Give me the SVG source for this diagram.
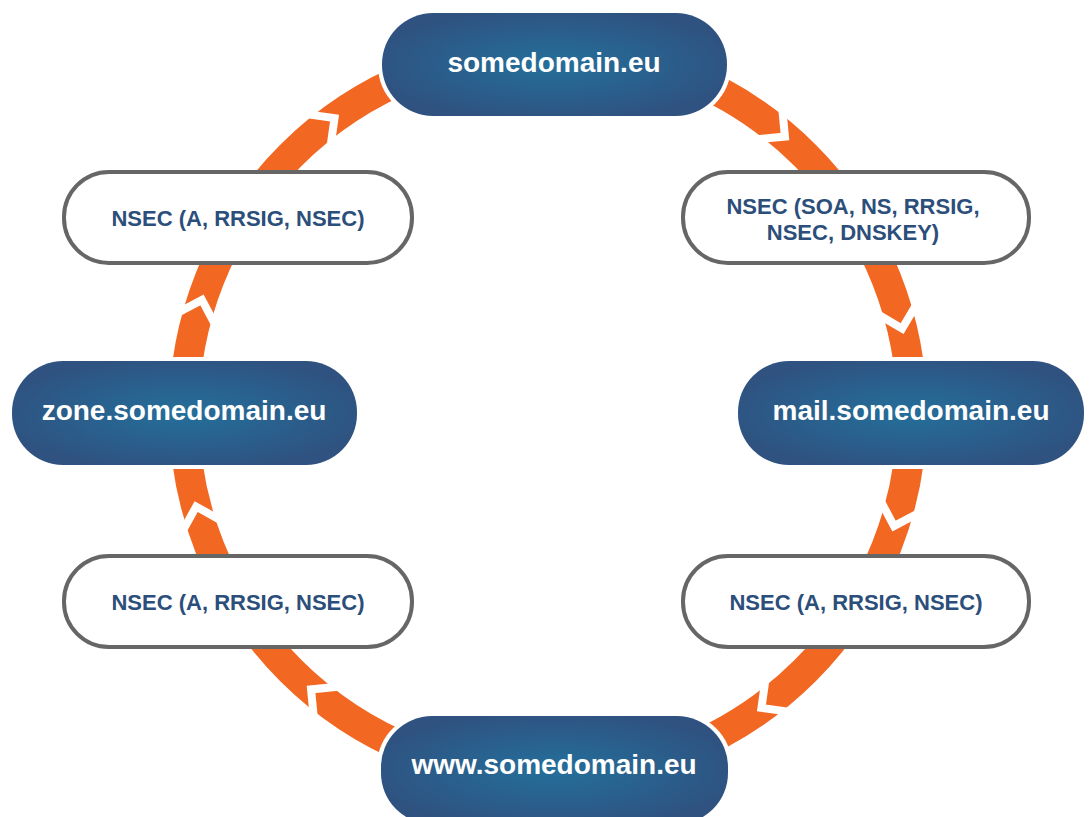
<svg xmlns="http://www.w3.org/2000/svg" width="1089" height="817" viewBox="0 0 1089 817">
  <defs>
    <radialGradient id="blueGrad" cx="0.5" cy="0.5" r="0.55">
      <stop offset="0" stop-color="#246f9b"/>
      <stop offset="1" stop-color="#2f5280"/>
    </radialGradient>
  </defs>
  <style>
    .band { fill: none; stroke: #f26722; stroke-width: 30; }
    .cut { fill: none; stroke: #ffffff; stroke-width: 8; stroke-linejoin: miter; stroke-miterlimit: 4; }
    .dom { fill: url(#blueGrad); stroke: #ffffff; stroke-width: 8; paint-order: stroke; }
    .domtxt { fill: #ffffff; font-family: "Liberation Sans", Arial, sans-serif; font-weight: bold; font-size: 28px; text-anchor: middle; }
    .nsec { fill: #ffffff; stroke: #666666; stroke-width: 4; }
    .nsectxt { fill: #2c4e7b; font-family: "Liberation Sans", Arial, sans-serif; font-weight: bold; font-size: 22px; text-anchor: middle; }
  </style>
  <rect width="1089" height="817" fill="#ffffff"/>

  <g id="connectors">
    <circle class="band" cx="548" cy="413" r="364"/>
    <polyline class="cut" points="893,401 912,420 931,401" transform="rotate(-50.5 548 413)"/>
    <polyline class="cut" points="893,401 912,420 931,401" transform="rotate(-14.5 548 413)"/>
    <polyline class="cut" points="893,401 912,420 931,401" transform="rotate(17 548 413)"/>
    <polyline class="cut" points="893,401 912,420 931,401" transform="rotate(53 548 413)"/>
    <polyline class="cut" points="893,401 912,420 931,401" transform="rotate(129.5 548 413)"/>
    <polyline class="cut" points="893,401 912,420 931,401" transform="rotate(164 548 413)"/>
    <polyline class="cut" points="893,401 912,420 931,401" transform="rotate(197 548 413)"/>
    <polyline class="cut" points="893,401 912,420 931,401" transform="rotate(233 548 413)"/>
  </g>

  <g id="node-somedomain">
    <rect class="dom" x="382" y="13" width="345" height="103" rx="51"/>
    <text class="domtxt" x="554" y="72">somedomain.eu</text>
  </g>
  <g id="node-nsec-top-right">
    <rect class="nsec" x="683" y="172" width="346" height="91" rx="45"/>
    <text class="nsectxt" x="853" y="214">NSEC (SOA, NS, RRSIG,</text>
    <text class="nsectxt" x="853" y="240">NSEC, DNSKEY)</text>
  </g>
  <g id="node-mail">
    <rect class="dom" x="738" y="361" width="346" height="104" rx="51"/>
    <text class="domtxt" x="911" y="420">mail.somedomain.eu</text>
  </g>
  <g id="node-nsec-bottom-right">
    <rect class="nsec" x="683" y="556" width="346" height="91" rx="45"/>
    <text class="nsectxt" x="856" y="610">NSEC (A, RRSIG, NSEC)</text>
  </g>
  <g id="node-www">
    <rect class="dom" x="381" y="716" width="347" height="108" rx="51"/>
    <text class="domtxt" x="554" y="774">www.somedomain.eu</text>
  </g>
  <g id="node-nsec-bottom-left">
    <rect class="nsec" x="64" y="556" width="348" height="91" rx="45"/>
    <text class="nsectxt" x="238" y="610">NSEC (A, RRSIG, NSEC)</text>
  </g>
  <g id="node-zone">
    <rect class="dom" x="12" y="361" width="345" height="104" rx="51"/>
    <text class="domtxt" x="184" y="420">zone.somedomain.eu</text>
  </g>
  <g id="node-nsec-top-left">
    <rect class="nsec" x="64" y="172" width="348" height="91" rx="45"/>
    <text class="nsectxt" x="238" y="226">NSEC (A, RRSIG, NSEC)</text>
  </g>
</svg>
